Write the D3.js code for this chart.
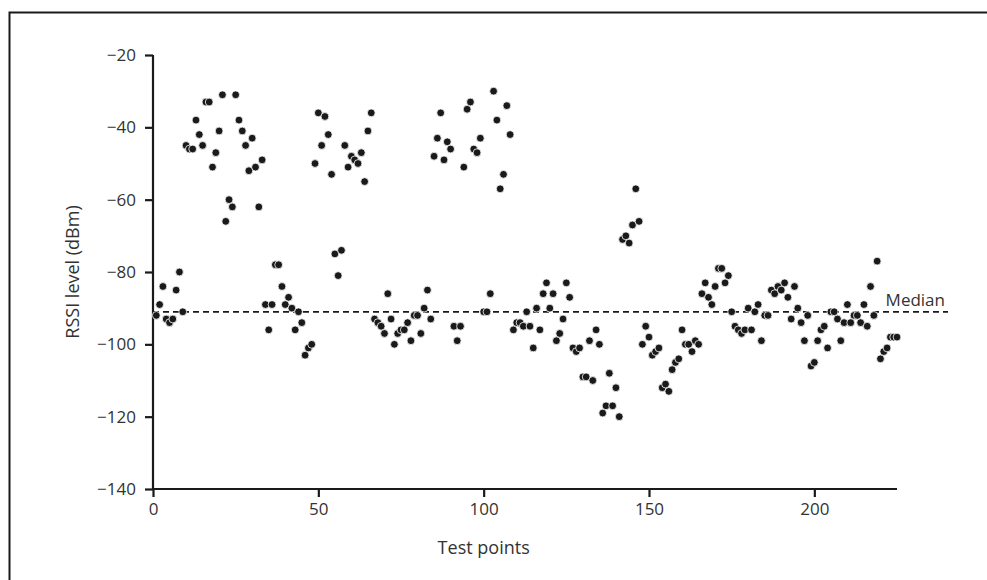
<!DOCTYPE html>
<html>
<head>
<meta charset="utf-8">
<script src="https://cdn.jsdelivr.net/npm/d3@7"></script>
<style>
  html, body { margin: 0; padding: 0; background: #fff; }
  svg { display: block; }
  text { font-family: "Open Sans", "Noto Sans", sans-serif; fill: #333; }
</style>
</head>
<body>
<svg id="chart" width="987" height="580"></svg>
<script>
// ---- data ----
const testPoints = d3.range(1, 226);
const rssi = [
  -92, -89, -84, -93, -94, -93, -85, -80, -91,
  -45, -46, -46, -38, -42, -45, -33, -33, -51, -47, -41, -31, -66, -60, -62, -31, -38, -41, -45, -52, -43, -51, -62, -49,
  -89, -96, -89, -78, -78, -84, -89, -87, -90, -96, -91, -94, -103, -101, -100,
  -50, -36, -45, -37, -42, -53, -75, -81, -74, -45, -51, -48, -49, -50, -47, -55, -41, -36,
  -93, -94, -95, -97, -86, -93, -100, -97, -96, -96, -94, -99, -92, -92, -97, -90, -85, -93,
  -48, -43, -36, -49, -44, -46, -95, -99, -95, -51, -35, -33, -46, -47, -43, -91, -91, -86, -30, -38, -57, -53, -34, -42,
  -96, -94, -94, -95, -91, -95, -101, -90, -96, -86, -83, -90, -86, -99, -97, -93, -83, -87, -101, -102, -101, -109, -109, -99, -110, -96, -100,
  -119, -117, -108, -117, -112, -120, -71, -70, -72, -67, -57, -66,
  -100, -95, -98, -103, -102, -101, -112, -111, -113, -107, -105, -104, -96, -100, -100, -102, -99, -100,
  -86, -83, -87, -89, -84, -79, -79, -83, -81, -91, -95, -96, -97, -96, -90, -96, -91, -89, -99, -92, -92, -85, -86, -84, -85, -83, -87,
  -93, -84, -90, -94, -99, -92, -106, -105, -99, -96, -95, -101, -91, -91, -93, -99, -94, -89, -94, -92, -92, -94, -89, -95, -84, -92, -77,
  -104, -102, -101, -98, -98, -98
];
const xTicks = [0, 50, 100, 150, 200];
const yTicks = [-140, -120, -100, -80, -60, -40, -20];
const medianValue = -91;
const medianLabel = "Median";
const xTitle = "Test points";
const yTitle = "RSSI level (dBm)";

const data = testPoints.map((t, i) => ({ x: t, y: rssi[i] }));

// ---- layout ----
const svg = d3.select("#chart");

// outer frame (left + top visible)
svg.append("rect")
  .attr("x", 9.5).attr("y", 12.5)
  .attr("width", 1000).attr("height", 600)
  .attr("fill", "none").attr("stroke", "#1a1a1a").attr("stroke-width", 2);

const x = d3.scaleLinear().domain([0, 225]).range([153, 897]);
const y = d3.scaleLinear().domain([-140, -20]).range([489, 55]);

// axes
const xAxis = svg.append("g")
  .attr("transform", `translate(0,${y(-140)})`)
  .call(d3.axisBottom(x).tickValues(xTicks).tickSize(8).tickPadding(6).tickFormat(d3.format("d")));
const yAxis = svg.append("g")
  .attr("transform", `translate(${x(0)},0)`)
  .call(d3.axisLeft(y).tickValues(yTicks).tickSize(8).tickPadding(9));

[xAxis, yAxis].forEach(g => {
  g.select(".domain").attr("stroke", "#1a1a1a").attr("stroke-width", 2.2);
  g.selectAll(".tick line").attr("stroke", "#1a1a1a").attr("stroke-width", 2.2);
  g.selectAll(".tick text").attr("font-size", 17).attr("fill", "#333")
    .style("font-family", '"Open Sans", "Noto Sans", sans-serif');
});
// remove outer end ticks from domain path (keep plain line)
xAxis.select(".domain").attr("d", `M${x(0)},0H${x(225)}`);
yAxis.select(".domain").attr("d", `M0,${y(-20)}V${y(-140)}`);

// median line
const lineEnd = x(225) + 51;
svg.append("line")
  .attr("x1", x(0)).attr("x2", lineEnd)
  .attr("y1", y(medianValue)).attr("y2", y(medianValue))
  .attr("stroke", "#1a1a1a").attr("stroke-width", 1.8)
  .attr("stroke-dasharray", "6,4");
svg.append("text")
  .attr("x", lineEnd - 3).attr("y", y(medianValue) - 6)
  .attr("text-anchor", "end").attr("font-size", 17)
  .text(medianLabel);

// points
svg.append("g").selectAll("circle")
  .data(data).join("circle")
  .attr("cx", d => x(d.x)).attr("cy", d => y(d.y))
  .attr("r", 3.9)
  .attr("fill", "#1a1a1a")
  .attr("stroke", "#fff").attr("stroke-width", 0.8);

// titles
svg.append("text")
  .attr("x", x(100)).attr("y", 554)
  .attr("text-anchor", "middle").attr("font-size", 18)
  .text(xTitle);
svg.append("text")
  .attr("transform", `translate(79,${(y(-20) + y(-140)) / 2}) rotate(-90)`)
  .attr("text-anchor", "middle").attr("font-size", 18)
  .text(yTitle);
</script>
</body>
</html>
